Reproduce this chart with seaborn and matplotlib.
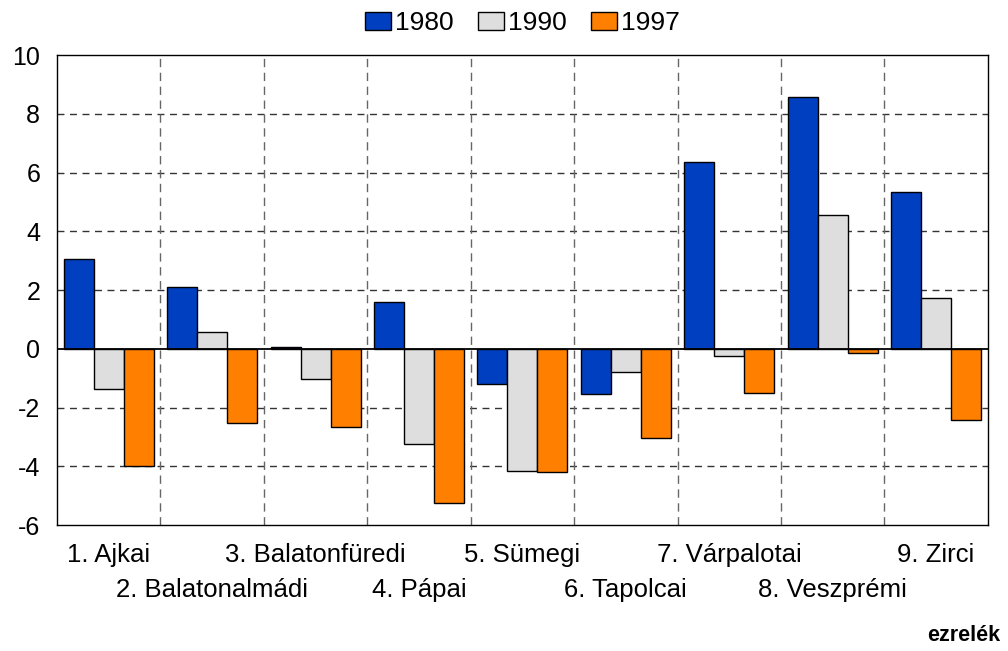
import pandas as pd
import numpy as np
import matplotlib
matplotlib.use("Agg")
import matplotlib.pyplot as plt
import seaborn as sns

# Data
kistersegek = ["1. Ajkai", "2. Balatonalmádi", "3. Balatonfüredi", "4. Pápai", "5. Sümegi",
               "6. Tapolcai", "7. Várpalotai", "8. Veszprémi", "9. Zirci"]
ev_1980 = [3.05, 2.1, 0.05, 1.6, -1.2, -1.53, 6.36, 8.57, 5.34]
ev_1990 = [-1.36, 0.58, -1.02, -3.23, -4.15, -0.78, -0.24, 4.56, 1.73]
ev_1997 = [-3.98, -2.52, -2.65, -5.24, -4.18, -3.03, -1.5, -0.14, -2.41]
years = ["1980", "1990", "1997"]
y_ticks = [-6, -4, -2, 0, 2, 4, 6, 8, 10]

df = pd.DataFrame({"kisterseg": kistersegek, "1980": ev_1980, "1990": ev_1990, "1997": ev_1997})
long_df = df.melt(id_vars="kisterseg", var_name="ev", value_name="ertek")

sns.set_style("white")
plt.rcParams["font.family"] = ["Liberation Sans", "DejaVu Sans"]
plt.rcParams["text.color"] = "black"
plt.rcParams["ytick.color"] = "black"
plt.rcParams["xtick.color"] = "black"

fig = plt.figure(figsize=(10.08, 6.51), dpi=100)
ax = fig.add_axes([0.0565, 0.1935, 0.9235, 0.722])

palette = {"1980": "#0040C0", "1990": "#DEDEDE", "1997": "#FF8000"}
sns.barplot(data=long_df, x="kisterseg", y="ertek", hue="ev", hue_order=years,
            palette=palette, width=0.87, edgecolor="black", linewidth=1.0,
            saturation=1, ax=ax, zorder=3)

n = len(kistersegek)
ax.set_xlim(-0.5, n - 0.5)
ax.set_ylim(-6, 10)
ax.set_yticks(y_ticks)
ax.set_yticklabels([str(t) for t in y_ticks], fontsize=18, color="black")

# dashed grid: horizontal at y ticks, vertical at category boundaries
for t in y_ticks[1:-1]:
    if t != 0:
        ax.axhline(t, color="#333333", linestyle=(0, (5, 4)), linewidth=1.0, zorder=1)
for b in np.arange(0.5, n - 0.5, 1):
    ax.axvline(b, color="#666666", linestyle=(0, (6, 4)), linewidth=1.0, zorder=1)
ax.axhline(0, color="black", linewidth=1.3, zorder=4)

# alternating two-row category labels
ax.set_xticks(range(n))
ax.set_xticklabels([])
ax.tick_params(axis="x", length=0)
ax.tick_params(axis="y", length=0, pad=12)
for i, lab in enumerate(kistersegek):
    dy = -0.039 if i % 2 == 0 else -0.112
    ax.text(i, dy, lab, transform=ax.get_xaxis_transform(), ha="center", va="top",
            fontsize=18.5, color="black")

ax.set_xlabel("")
ax.set_ylabel("")
for s in ax.spines.values():
    s.set_color("black")
    s.set_linewidth(1.0)

leg = ax.legend(loc="lower center", bbox_to_anchor=(0.5, 1.02), ncol=3, frameon=False,
                fontsize=19, handlelength=1.0, handleheight=0.7, handletextpad=0.15,
                columnspacing=0.9, borderaxespad=0.0)
for txt in leg.get_texts():
    txt.set_color("black")

fig.text(0.992, 0.008, "ezrelék", ha="right", va="bottom", fontsize=15.5,
         fontweight="bold", color="black")

fig.savefig("out.png", dpi=100)
